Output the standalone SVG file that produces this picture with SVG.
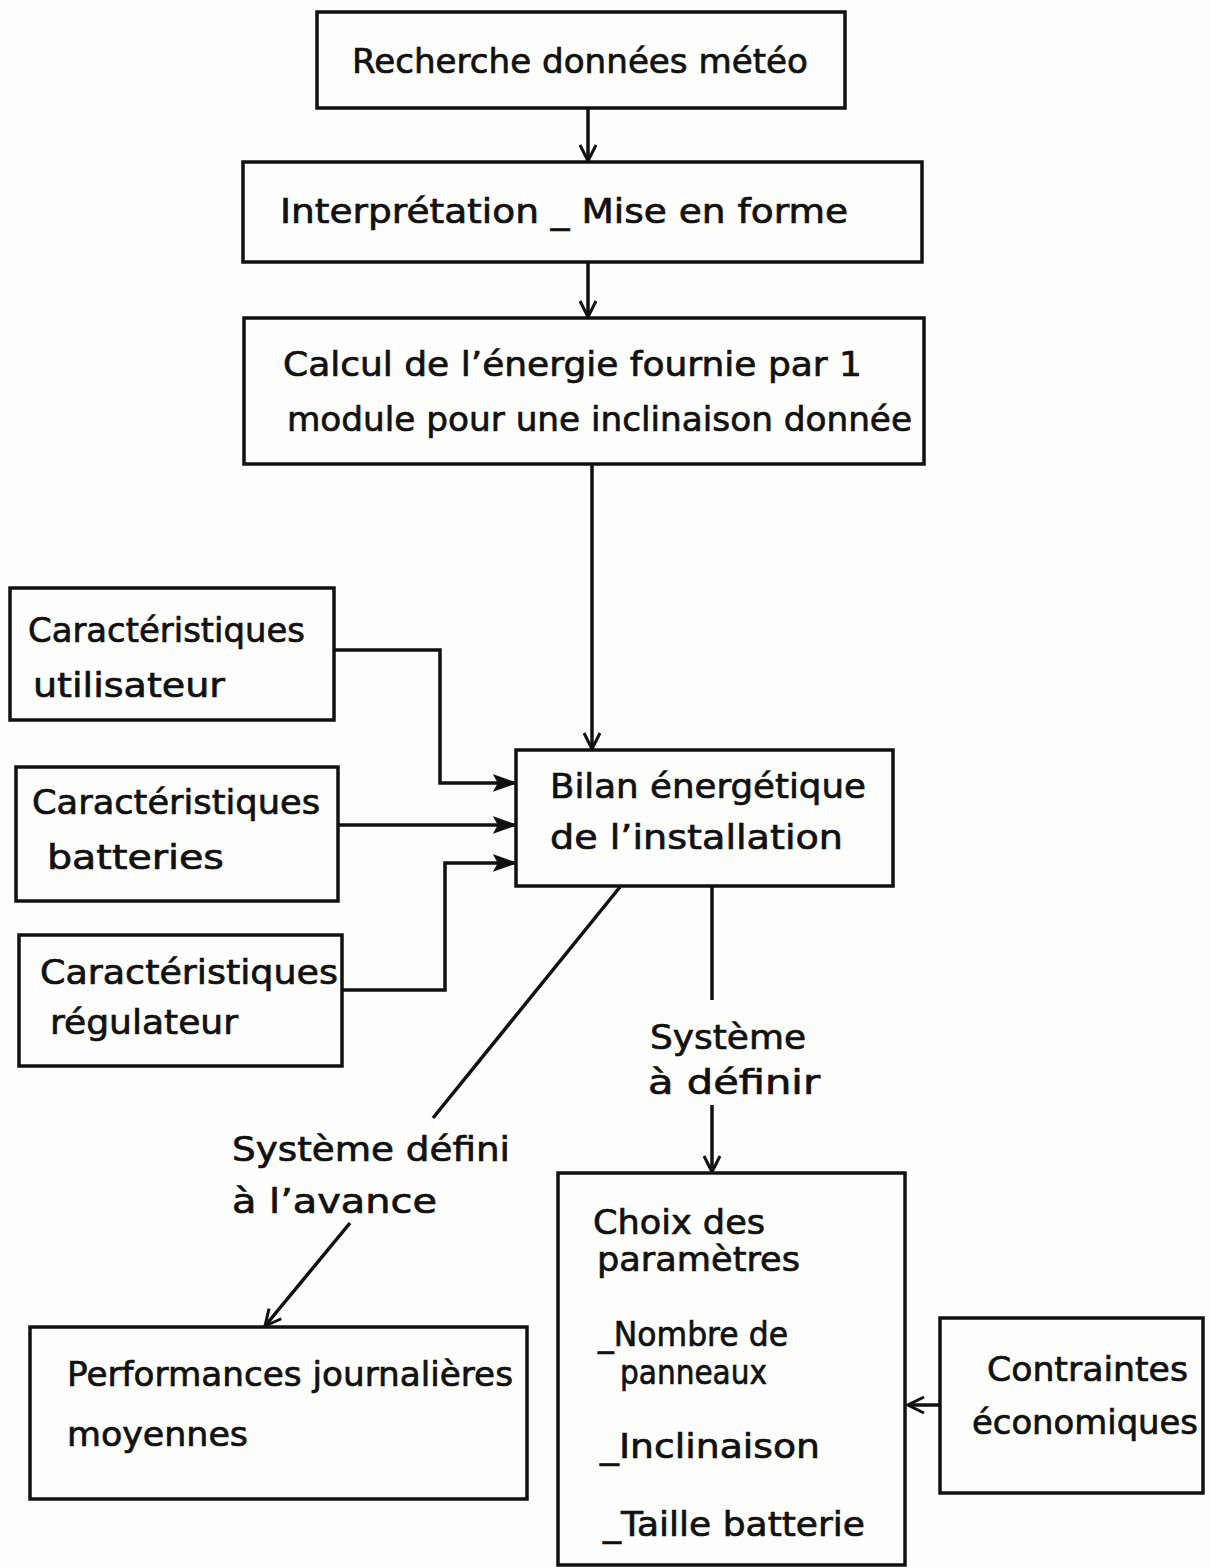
<svg xmlns="http://www.w3.org/2000/svg" width="1210" height="1567" viewBox="0 0 1210 1567">
<style>
.box{fill:none;stroke:#111;stroke-width:3.5}
.ln{fill:none;stroke:#111;stroke-width:3.5;stroke-linejoin:miter}
text{font-family:"DejaVu Sans","Liberation Sans",sans-serif;font-size:34px;fill:#111;stroke:#111;stroke-width:0.7}
</style>
<defs>
<marker id="v" viewBox="0 0 20 20" refX="18" refY="10" markerWidth="20" markerHeight="20" markerUnits="userSpaceOnUse" orient="auto">
<path d="M2,2 L18,10 L2,18" fill="none" stroke="#111" stroke-width="3"/>
</marker>
<marker id="f" viewBox="0 0 24 20" refX="22" refY="10" markerWidth="24" markerHeight="20" markerUnits="userSpaceOnUse" orient="auto">
<path d="M2,3 L22,10 L2,17 L6,10 Z" fill="#111" stroke="#111" stroke-width="2"/>
</marker>
</defs>
<rect width="1210" height="1567" fill="#fdfdfb"/>

<g id="n1"><rect class="box" x="317" y="12" width="528" height="96"/>
<text x="352" y="73" textLength="456" lengthAdjust="spacingAndGlyphs">Recherche données météo</text></g>

<g id="n2"><rect class="box" x="243" y="162" width="679" height="100"/>
<text x="280" y="223" textLength="568" lengthAdjust="spacingAndGlyphs">Interprétation _ Mise en forme</text></g>

<g id="n3"><rect class="box" x="244" y="318" width="680" height="146"/>
<text x="283" y="376" textLength="579" lengthAdjust="spacingAndGlyphs">Calcul de l’énergie fournie par 1</text>
<text x="287" y="431" textLength="625" lengthAdjust="spacingAndGlyphs">module pour une inclinaison donnée</text></g>

<g id="n4"><rect class="box" x="10" y="588" width="324" height="132"/>
<text x="28" y="642" textLength="277" lengthAdjust="spacingAndGlyphs">Caractéristiques</text>
<text x="33" y="697" textLength="192" lengthAdjust="spacingAndGlyphs">utilisateur</text></g>

<g id="n5"><rect class="box" x="16" y="767" width="322" height="134"/>
<text x="32" y="814" textLength="288" lengthAdjust="spacingAndGlyphs">Caractéristiques</text>
<text x="47" y="869" textLength="177" lengthAdjust="spacingAndGlyphs">batteries</text></g>

<g id="n6"><rect class="box" x="19" y="935" width="323" height="131"/>
<text x="40" y="984" textLength="298" lengthAdjust="spacingAndGlyphs">Caractéristiques</text>
<text x="50" y="1034" textLength="188" lengthAdjust="spacingAndGlyphs">régulateur</text></g>

<g id="n7"><rect class="box" x="516" y="750" width="377" height="136"/>
<text x="550" y="798" textLength="316" lengthAdjust="spacingAndGlyphs">Bilan énergétique</text>
<text x="550" y="849" textLength="293" lengthAdjust="spacingAndGlyphs">de l’installation</text></g>

<g id="n8"><rect class="box" x="30" y="1327" width="497" height="172"/>
<text x="67" y="1386" textLength="446" lengthAdjust="spacingAndGlyphs">Performances journalières</text>
<text x="67" y="1446" textLength="181" lengthAdjust="spacingAndGlyphs">moyennes</text></g>

<g id="n9"><rect class="box" x="558" y="1173" width="347" height="392"/>
<text x="593" y="1234" textLength="172" lengthAdjust="spacingAndGlyphs">Choix des</text>
<text x="597" y="1271" textLength="203" lengthAdjust="spacingAndGlyphs">paramètres</text>
<text x="598" y="1346" textLength="190" lengthAdjust="spacingAndGlyphs">_Nombre de</text>
<text x="620" y="1384" textLength="147" lengthAdjust="spacingAndGlyphs">panneaux</text>
<text x="600" y="1458" textLength="220" lengthAdjust="spacingAndGlyphs">_Inclinaison</text>
<text x="603" y="1536" textLength="262" lengthAdjust="spacingAndGlyphs">_Taille batterie</text></g>

<g id="n10"><rect class="box" x="940" y="1318" width="263" height="175"/>
<text x="987" y="1381" textLength="201" lengthAdjust="spacingAndGlyphs">Contraintes</text>
<text x="972" y="1434" textLength="226" lengthAdjust="spacingAndGlyphs">économiques</text></g>

<g id="labels">
<text x="650" y="1049" textLength="156" lengthAdjust="spacingAndGlyphs">Système</text>
<text x="648" y="1094" textLength="172" lengthAdjust="spacingAndGlyphs">à définir</text>
<text x="232" y="1161" textLength="278" lengthAdjust="spacingAndGlyphs">Système défini</text>
<text x="232" y="1213" textLength="205" lengthAdjust="spacingAndGlyphs">à l’avance</text>
</g>

<g id="connectors">
<line class="ln" x1="588" y1="108" x2="588" y2="161" marker-end="url(#v)"/>
<line class="ln" x1="588" y1="262" x2="588" y2="317" marker-end="url(#v)"/>
<line class="ln" x1="592" y1="464" x2="592" y2="749" marker-end="url(#v)"/>
<polyline class="ln" points="334,650 440,650 440,783 515,783" marker-end="url(#f)"/>
<line class="ln" x1="338" y1="825" x2="515" y2="825" marker-end="url(#f)"/>
<polyline class="ln" points="342,990 445,990 445,863 515,863" marker-end="url(#f)"/>
<line class="ln" x1="620" y1="887" x2="433" y2="1118"/>
<line class="ln" x1="350" y1="1223" x2="265" y2="1326" marker-end="url(#v)"/>
<line class="ln" x1="712" y1="886" x2="712" y2="1000"/>
<line class="ln" x1="712" y1="1105" x2="712" y2="1172" marker-end="url(#v)"/>
<line class="ln" x1="940" y1="1405" x2="908" y2="1405" marker-end="url(#v)"/>
</g>
</svg>
